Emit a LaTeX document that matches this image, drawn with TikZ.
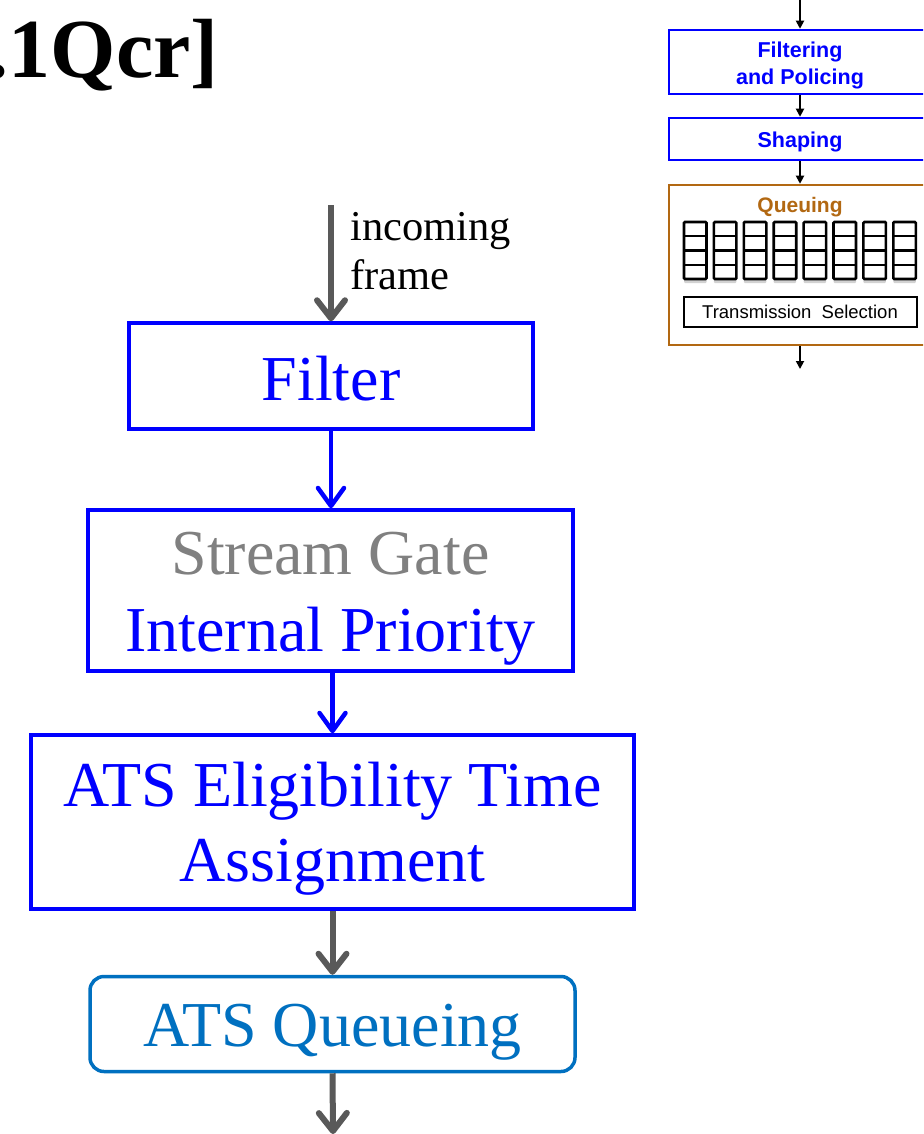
\documentclass[tikz,border=0pt]{standalone}
\usepackage{fontspec}
\setmainfont{Liberation Serif}
\newfontfamily\arialfont{Liberation Sans}
\usetikzlibrary{arrows.meta,shadows}
\definecolor{pblue}{RGB}{0,0,255}
\definecolor{agray}{RGB}{89,89,89}
\definecolor{sgray}{RGB}{128,128,128}
\definecolor{qblue}{RGB}{0,112,192}
\definecolor{qbrown}{RGB}{178,104,18}
\begin{document}
\begin{tikzpicture}[x=1pt,y=-1pt,
  mainbox/.style={draw=pblue, line width=3.5pt, text=pblue, align=center, inner sep=0pt,
    font=\fontsize{64}{75}\selectfont},
  qbox/.style={draw=qblue, line width=3.5pt, rounded corners=14pt, text=qblue, inner sep=0pt,
    font=\fontsize{64}{75}\selectfont},
  garrow/.style={draw=agray, line width=6pt, -{Straight Barb[length=18pt,width=28pt,line cap=round,line join=round]}},
  barrow/.style={draw=pblue, line width=4.5pt, -{Straight Barb[length=18pt,width=26pt,line cap=round,line join=round]}},
  karrow/.style={draw=black, line width=1.8pt, -{Triangle[length=8pt,width=8pt]}},
  ibox/.style={draw=pblue, line width=2.5pt, text=pblue, align=center, inner sep=0pt,
    font=\arialfont\bfseries\fontsize{21.5}{27}\selectfont},
  qcol/.style={draw=black, line width=2.6pt, rounded corners=1pt, fill=white,
    drop shadow={shadow xshift=0pt, shadow yshift=-4pt, opacity=0.35}},
  plain/.style={inner sep=0pt}
]
\clip (0,0) rectangle (923,1134);
\fill[white] (0,0) rectangle (923,1134);

% title
\node[plain, anchor=base east, font=\bfseries\fontsize{84}{90}\selectfont] (title) at (219,78) {[802.1Qcr]};

% main chain
\coordinate (inTop) at (331,205);
\node[plain, anchor=base west, font=\fontsize{42.5}{50}\selectfont] (inc1) at (350,240) {incoming};
\node[plain, anchor=base west, font=\fontsize{42.5}{50}\selectfont] (inc2) at (350,289) {frame};

\node[mainbox, minimum width=404pt, minimum height=106pt] (filter) at (331,376) {\rule{0pt}{50pt}Filter};
\node[mainbox, minimum width=485pt, minimum height=161pt, font=\fontsize{64}{77}\selectfont] (gate) at (330.5,590.5)
  {\rule{0pt}{58pt}\textcolor{sgray}{Stream Gate}\\Internal Priority};
\node[mainbox, minimum width=603pt, minimum height=174pt, font=\fontsize{64}{74.5}\selectfont] (ets) at (332.5,822)
  {\rule{0pt}{58pt}ATS Eligibility Time\\Assignment};
\node[qbox, minimum width=485pt, minimum height=95pt] (atsq) at (332.5,1024) {\rule{0pt}{58pt}ATS Queueing};
\coordinate (outEnd) at (333,1134);

\draw[garrow] (inTop) -- (filter.north -| inTop);
\draw[barrow] (filter.south) -- (filter.south |- gate.north);
\draw[barrow] (gate.south -| ets.north) -- (ets.north);
\draw[garrow] (ets.south) -- (atsq.north);
\draw[garrow] (atsq.south) -- (outEnd);

% inset (top right)
\coordinate (i0) at (800,0);
\node[ibox, minimum width=262pt, minimum height=64pt] (fp) at (800,62) {\rule{0pt}{22pt}Filtering\\and Policing};
\node[ibox, minimum width=262pt, minimum height=42pt] (sh) at (800,139) {\rule{0pt}{22pt}Shaping};
\node[draw=qbrown, line width=2.5pt, minimum width=262pt, minimum height=160pt, inner sep=0pt] (qu) at (800,265) {};
\node[plain, text=qbrown, font=\arialfont\bfseries\fontsize{21}{24}\selectfont] (qlabel) at (800,207) {Queuing};
\foreach \i in {0,...,7}{
  \pgfmathsetmacro{\xx}{684+29.9*\i}
  \draw[qcol] (\xx,222) rectangle (\xx+22.5,279);
  \foreach \r in {236.25,250.5,264.75}{
    \draw[black, line width=2.4pt] (\xx,\r) -- (\xx+22.5,\r);
  }
}
\node[draw=black, line width=2pt, minimum width=233pt, minimum height=30pt, inner sep=0pt,
  font=\arialfont\fontsize{18.5}{20}\selectfont] (ts) at (800,312) {Transmission\ \ Selection};
\coordinate (iout) at (800,369);

\draw[karrow] (i0) -- (fp.north);
\draw[karrow] (fp.south) -- (sh.north);
\draw[karrow] (sh.south) -- (qu.north);
\draw[karrow] (qu.south) -- (iout);
\end{tikzpicture}
\end{document}
